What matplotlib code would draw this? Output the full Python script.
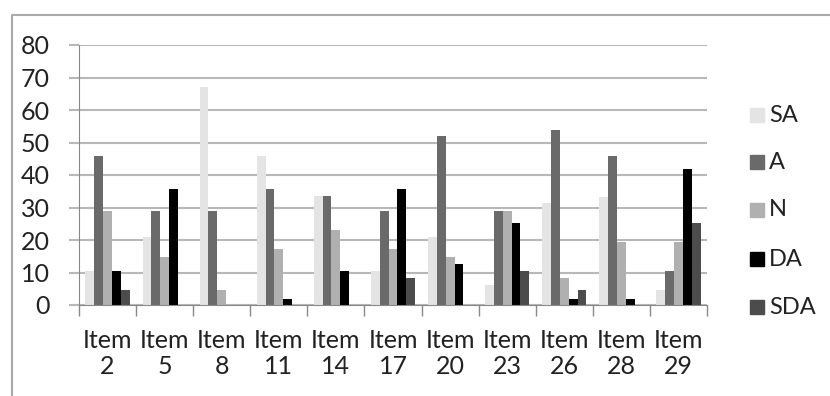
import matplotlib
matplotlib.use('Agg')
import matplotlib.pyplot as plt
from matplotlib.lines import Line2D
from matplotlib.patches import Rectangle
import numpy as np

plt.rcParams['font.family'] = ['Lato', 'DejaVu Sans']

items = ['Item\n2', 'Item\n5', 'Item\n8', 'Item\n11', 'Item\n14', 'Item\n17',
         'Item\n20', 'Item\n23', 'Item\n26', 'Item\n28', 'Item\n29']
series_names = ['SA', 'A', 'N', 'DA', 'SDA']
sa = [10.5, 21, 67, 46, 33.6, 10.5, 21, 6.2, 31.5, 33.3, 4.5]
a = [46, 29, 29, 35.6, 33.6, 29, 52, 29, 54, 46, 10.5]
n = [29, 14.7, 4.5, 17.3, 23, 17.2, 14.7, 29, 8.4, 19.3, 19.3]
da = [10.5, 35.6, 0, 2, 10.5, 35.6, 12.6, 25.3, 2, 2, 41.7]
sda = [4.5, 0, 0, 0, 0, 8.4, 0, 10.5, 4.5, 0, 25.3]
colors = ['#e4e4e4', '#6a6a6a', '#b0b0b0', '#000000', '#4c4c4c']

W, H = 830, 396
fig = plt.figure(figsize=(W/100, H/100), dpi=100)
ax = fig.add_axes([79/W, 1-305/H, 628/W, 260/H])

x = np.arange(len(items))
w = 0.155
for i, vals in enumerate([sa, a, n, da, sda]):
    ax.bar(x + (i - 2) * w, vals, w, color=colors[i], label=series_names[i], zorder=3)

ax.set_xlim(-0.5, len(items) - 0.5)
ax.set_ylim(0, 80)
ax.set_yticks(range(0, 81, 10))
ax.yaxis.grid(True, color='#b8b8b8', linewidth=1.5, zorder=0)
ax.tick_params(axis='y', length=7, color='#b8b8b8', width=1.5, pad=14,
               labelsize=18, labelcolor='#222222')
ax.set_xticks(x)
ax.set_xticklabels(items, linespacing=1.2)
ax.set_xticks(np.arange(len(items) + 1) - 0.5, minor=True)
ax.tick_params(axis='x', which='major', length=0, pad=17, labelsize=18,
               labelcolor='#222222')
ax.tick_params(axis='x', which='minor', length=8, color='#888888', width=1)
for s in ['top', 'right']:
    ax.spines[s].set_visible(False)
ax.spines['left'].set_color('#888888')
ax.spines['bottom'].set_color('#888888')
ax.spines['bottom'].set_zorder(4)

# legend drawn by hand, one row per series
legend_y = [115, 162, 210, 259, 307]
for name, col, yy in zip(series_names, colors, legend_y):
    fig.add_artist(Rectangle((750/W, 1-(yy+7)/H), 14/W, 14/H,
                             transform=fig.transFigure, color=col))
    fig.text(769/W, 1-yy/H, name, fontsize=17, color='#222222', va='center')

# outer frame (top and left only)
fig.add_artist(Line2D([12/W, 12/W, 1], [0, 1-15/H, 1-15/H],
                      transform=fig.transFigure, color='#aaaaaa', linewidth=1.5))

fig.savefig('out.png', dpi=100)
